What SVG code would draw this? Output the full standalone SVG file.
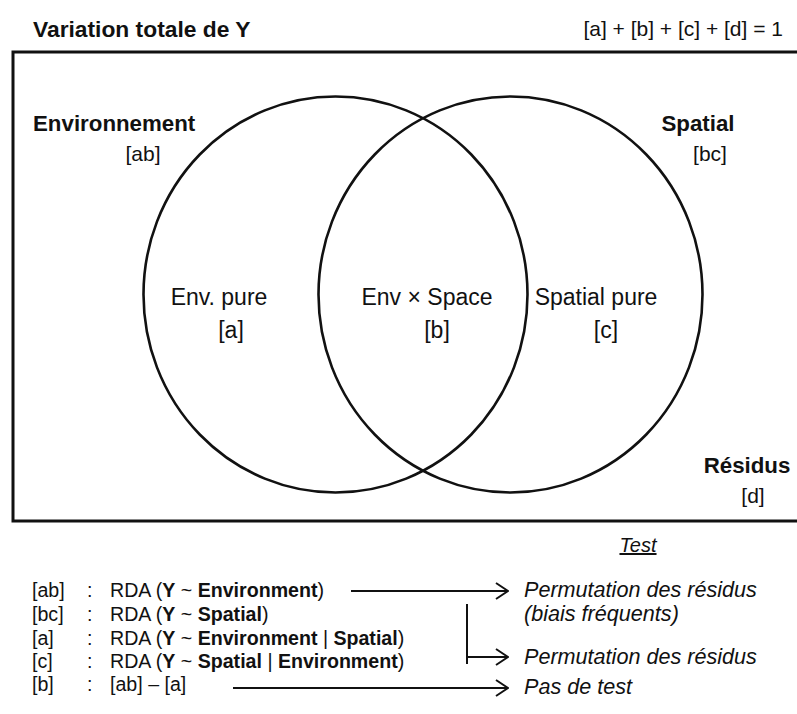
<svg xmlns="http://www.w3.org/2000/svg" width="797" height="714" viewBox="0 0 797 714">
  <style>
    text { font-family: "Liberation Sans", Arial, sans-serif; fill: #111; }
    .title { font-size: 22.8px; font-weight: bold; }
    .lbl { font-size: 22.3px; font-weight: bold; }
    .body { font-size: 21px; }
    .inner { font-size: 23px; }
    .list { font-size: 19.6px; }
    .it { font-size: 21.6px; font-style: italic; }
    .b { font-weight: bold; }
    .line { fill: none; stroke: #111; stroke-width: 2; }
    .circle { fill: none; stroke: #111; stroke-width: 2.6; }
  </style>
  <defs>
    <marker id="chev" viewBox="0 0 14 18" refX="13" refY="9" markerWidth="14" markerHeight="18" markerUnits="userSpaceOnUse" orient="auto">
      <path d="M1,1 L13,9 L1,17" fill="none" stroke="#111" stroke-width="2"/>
    </marker>
  </defs>

  <!-- header -->
  <text class="title" x="33" y="37">Variation totale de Y</text>
  <text class="body" x="783" y="36" text-anchor="end">[a] + [b] + [c] + [d] = 1</text>

  <!-- frame of total variation -->
  <rect x="13" y="52" width="786" height="469" fill="none" stroke="#111" stroke-width="3"/>

  <g id="environment">
    <ellipse class="circle" cx="335.5" cy="294.5" rx="192" ry="198"/>
    <text class="lbl" x="33" y="131">Environnement</text>
    <text class="body" x="143" y="161" text-anchor="middle">[ab]</text>
    <text class="inner" x="219" y="305" text-anchor="middle">Env. pure</text>
    <text class="inner" x="231" y="338" text-anchor="middle">[a]</text>
  </g>

  <g id="spatial">
    <ellipse class="circle" cx="510.5" cy="294.5" rx="192" ry="198"/>
    <text class="lbl" x="698" y="131" text-anchor="middle">Spatial</text>
    <text class="body" x="710" y="161" text-anchor="middle">[bc]</text>
    <text class="inner" x="596" y="305" text-anchor="middle">Spatial pure</text>
    <text class="inner" x="606" y="338" text-anchor="middle">[c]</text>
  </g>

  <g id="shared">
    <text class="inner" x="427" y="305" text-anchor="middle">Env × Space</text>
    <text class="inner" x="437" y="338" text-anchor="middle">[b]</text>
  </g>

  <g id="residuals">
    <text class="lbl" x="747" y="473" text-anchor="middle">Résidus</text>
    <text class="body" x="753" y="503" text-anchor="middle">[d]</text>
  </g>

  <!-- list of tests -->
  <g id="list">
    <text class="it" x="638" y="552" text-anchor="middle" text-decoration="underline" style="font-size:20px">Test</text>

    <text class="list" x="32" y="597">[ab]</text>
    <text class="list" x="87" y="597">:</text>
    <text class="list" x="110" y="597">RDA (<tspan class="b">Y</tspan> ~ <tspan class="b">Environment</tspan>)</text>

    <text class="list" x="32" y="621">[bc]</text>
    <text class="list" x="87" y="621">:</text>
    <text class="list" x="110" y="621">RDA (<tspan class="b">Y</tspan> ~ <tspan class="b">Spatial</tspan>)</text>

    <text class="list" x="32" y="645">[a]</text>
    <text class="list" x="87" y="645">:</text>
    <text class="list" x="110" y="645">RDA (<tspan class="b">Y</tspan> ~ <tspan class="b">Environment</tspan> | <tspan class="b">Spatial</tspan>)</text>

    <text class="list" x="32" y="668">[c]</text>
    <text class="list" x="87" y="668">:</text>
    <text class="list" x="110" y="668">RDA (<tspan class="b">Y</tspan> ~ <tspan class="b">Spatial</tspan> | <tspan class="b">Environment</tspan>)</text>

    <text class="list" x="32" y="691">[b]</text>
    <text class="list" x="87" y="691">:</text>
    <text class="list" x="110" y="691">[ab] – [a]</text>

    <text class="it" x="524" y="597">Permutation des résidus</text>
    <text class="it" x="524" y="621">(biais fréquents)</text>
    <text class="it" x="524" y="664">Permutation des résidus</text>
    <text class="it" x="524" y="694">Pas de test</text>
  </g>

  <g id="connectors">
    <line class="line" x1="351" y1="591" x2="508" y2="591" marker-end="url(#chev)"/>
    <line class="line" x1="467" y1="604" x2="467" y2="664"/>
    <line class="line" x1="467" y1="657" x2="508" y2="657" marker-end="url(#chev)"/>
    <line class="line" x1="233" y1="688" x2="508" y2="688" marker-end="url(#chev)"/>
  </g>
</svg>
